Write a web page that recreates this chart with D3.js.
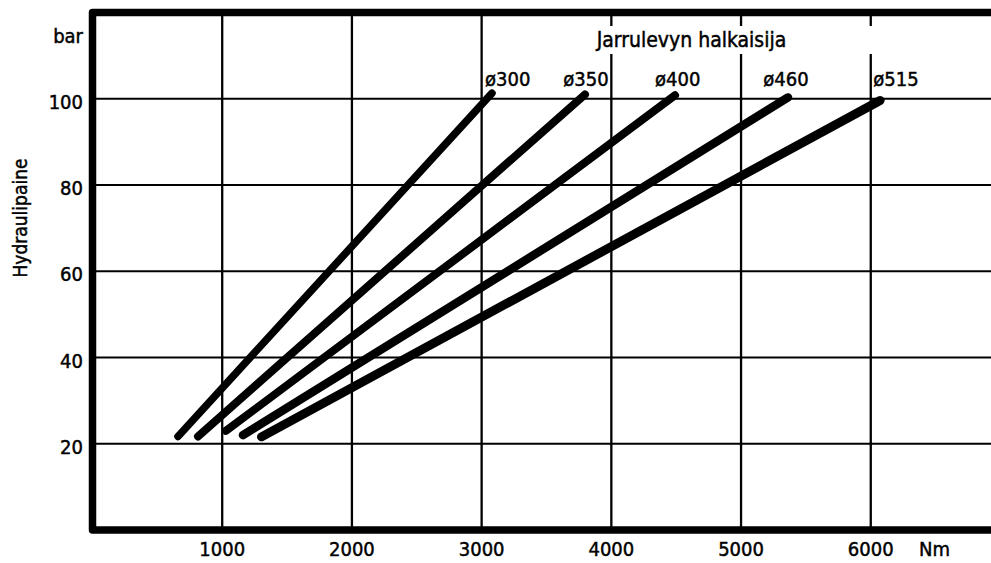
<!DOCTYPE html>
<html>
<head>
<meta charset="utf-8">
<script src="https://cdn.jsdelivr.net/npm/d3@7"></script>
<style>
  html, body { margin: 0; padding: 0; background: #fff; }
  svg { display: block; }
  text { font-family: "DejaVu Sans Condensed", "DejaVu Sans", sans-serif; font-stretch: condensed; fill: #000; stroke: #000; stroke-width: 0.45px; }
</style>
</head>
<body>
<script>
// ---- data ----
const diameters = ["ø300", "ø350", "ø400", "ø460", "ø515"];
const torqueStart = [659, 813, 1029, 1160, 1303];     // Nm at lower end
const pressureStart = [21.7, 21.7, 23.0, 22.0, 21.6]; // bar at lower end
const torqueEnd = [3080, 3797, 4491, 5362, 6072];     // Nm at upper end
const pressureEnd = [101.3, 101.0, 100.8, 100.3, 99.6];
const labelTorque = [3026, 3630, 4337, 5172, 6020];   // label anchor (Nm)
const xTicks = [1000, 2000, 3000, 4000, 5000, 6000];
const yTicks = [20, 40, 60, 80, 100];
const xUnit = "Nm";
const yUnit = "bar";
const yTitle = "Hydraulipaine";
const legendTitle = "Jarrulevyn halkaisija";

const W = 991, H = 563;
const x = d3.scaleLinear().domain([0, 6927]).range([92.5, 991]);
const y = d3.scaleLinear().domain([0, 120]).range([530, 12.5]);

const svg = d3.select("body").append("svg").attr("width", W).attr("height", H);

// vertical grid
svg.append("g").selectAll("line").data(xTicks).join("line")
  .attr("x1", d => x(d)).attr("x2", d => x(d))
  .attr("y1", y(120)).attr("y2", y(0))
  .attr("stroke", "#000").attr("stroke-width", 2.3);

// horizontal grid
svg.append("g").selectAll("line").data(yTicks).join("line")
  .attr("x1", x(0)).attr("x2", W)
  .attr("y1", d => y(d)).attr("y2", d => y(d))
  .attr("stroke", "#000").attr("stroke-width", 2);

// white band behind the legend title
svg.append("rect").attr("x", x(3600)).attr("y", 26).attr("width", x(6350) - x(3600)).attr("height", 28).attr("fill", "#fff");

// frame: top, left, bottom
svg.append("path")
  .attr("d", `M${W},${y(120)} H${x(0)} V${y(0)} H${W}`)
  .attr("fill", "none").attr("stroke", "#000").attr("stroke-width", 7.5)
  .attr("stroke-linejoin", "round");

// data lines
const widths = [7.5, 8, 8, 8.5, 9];
svg.append("g").selectAll("line").data(diameters).join("line")
  .attr("x1", (d, i) => x(torqueStart[i])).attr("y1", (d, i) => y(pressureStart[i]))
  .attr("x2", (d, i) => x(torqueEnd[i])).attr("y2", (d, i) => y(pressureEnd[i]))
  .attr("stroke", "#000").attr("stroke-width", (d, i) => widths[i])
  .attr("stroke-linecap", "round");

// series labels
svg.append("g").selectAll("text").data(diameters).join("text")
  .attr("x", (d, i) => x(labelTorque[i])).attr("y", 85.5)
  .attr("font-size", 20).text(d => d);

svg.append("text").attr("x", 691.5).attr("y", 47).attr("text-anchor", "middle")
  .attr("font-size", 21).text(legendTitle);

// y tick labels
svg.append("g").selectAll("text").data(yTicks).join("text")
  .attr("x", 83).attr("y", d => y(d) + 10)
  .attr("text-anchor", "end").attr("font-size", 20).text(d => d);
svg.append("text").attr("x", 83).attr("y", 43).attr("text-anchor", "end")
  .attr("font-size", 20).text(yUnit);

// x tick labels
svg.append("g").selectAll("text").data(xTicks).join("text")
  .attr("x", d => x(d)).attr("y", 556)
  .attr("text-anchor", "middle").attr("font-size", 20).text(d => d);
svg.append("text").attr("x", 919).attr("y", 556).attr("font-size", 20).text(xUnit);

// y title
svg.append("text").attr("transform", "translate(27,218) rotate(-90)")
  .attr("text-anchor", "middle").attr("font-size", 19).text(yTitle);
</script>
</body>
</html>
